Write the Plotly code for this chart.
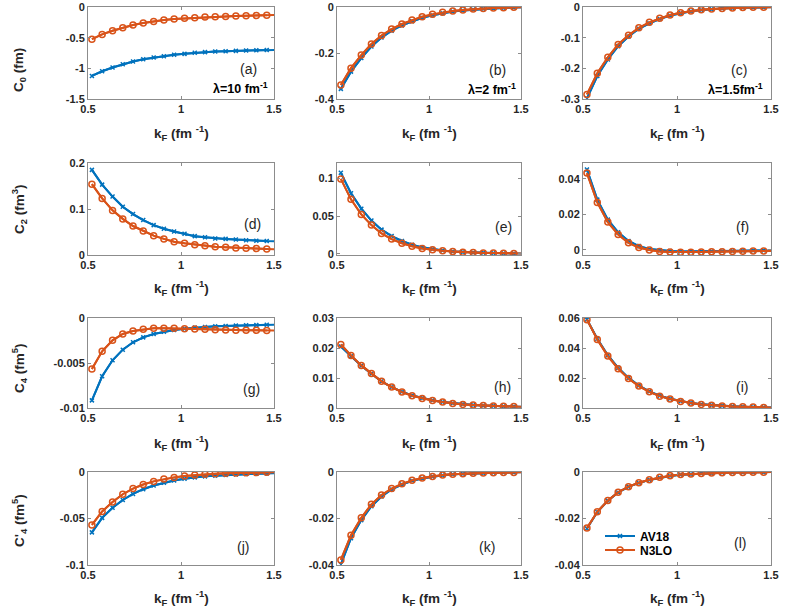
import plotly.graph_objects as go
from plotly.subplots import make_subplots

W, H = 789, 616

# Fermi momentum grid (fm^-1); the last point lies just past the axis edge
kf = [0.521, 0.576, 0.632, 0.687, 0.742, 0.797, 0.853, 0.908, 0.963, 1.019,
      1.074, 1.129, 1.184, 1.240, 1.295, 1.350, 1.405, 1.461, 1.516]

# row 1: C0
c0_av18_a = [-1.124, -1.047, -0.987, -0.933, -0.889, -0.851, -0.824, -0.802, -0.780, -0.764,
             -0.747, -0.736, -0.725, -0.720, -0.715, -0.709, -0.704, -0.700, -0.698]
c0_n3lo_a = [-0.524, -0.447, -0.387, -0.338, -0.295, -0.262, -0.235, -0.213, -0.196, -0.185,
             -0.175, -0.164, -0.158, -0.153, -0.147, -0.142, -0.138, -0.134, -0.131]
c0_av18_b = [-0.356, -0.281, -0.222, -0.172, -0.133, -0.103, -0.080, -0.062, -0.047, -0.036,
             -0.027, -0.020, -0.015, -0.011, -0.008, -0.006, -0.004, -0.003, -0.002]
c0_n3lo_b = [-0.339, -0.266, -0.209, -0.161, -0.124, -0.096, -0.074, -0.057, -0.042, -0.032,
             -0.023, -0.017, -0.013, -0.009, -0.006, -0.004, -0.003, -0.0015, -0.001]
c0_av18_c = [-0.298, -0.225, -0.171, -0.128, -0.096, -0.071, -0.053, -0.039, -0.028, -0.020,
             -0.014, -0.010, -0.007, -0.005, -0.0035, -0.0025, -0.0015, -0.001, -0.0006]
c0_n3lo_c = [-0.285, -0.216, -0.164, -0.122, -0.092, -0.068, -0.050, -0.037, -0.026, -0.0185,
             -0.013, -0.009, -0.0065, -0.0045, -0.003, -0.002, -0.001, -0.0008, -0.0005]

# row 2: C2
c2_av18_d = [0.185, 0.153, 0.127, 0.105, 0.089, 0.076, 0.065, 0.057, 0.051, 0.046,
             0.041, 0.0385, 0.036, 0.035, 0.0335, 0.032, 0.031, 0.0305, 0.030]
c2_n3lo_d = [0.154, 0.123, 0.097, 0.0785, 0.063, 0.052, 0.042, 0.035, 0.029, 0.0255,
             0.0225, 0.020, 0.018, 0.0167, 0.0153, 0.0145, 0.014, 0.013, 0.0124]
c2_av18_e = [0.107, 0.080, 0.0597, 0.044, 0.032, 0.0235, 0.017, 0.012, 0.0086, 0.0063,
             0.0045, 0.0032, 0.0023, 0.0018, 0.0014, 0.001, 0.0008, 0.0006, 0.0005]
c2_n3lo_e = [0.099, 0.072, 0.052, 0.038, 0.027, 0.0195, 0.014, 0.010, 0.0072, 0.0053,
             0.004, 0.003, 0.0022, 0.0017, 0.0013, 0.001, 0.0008, 0.0006, 0.0005]
c2_av18_f = [0.0453, 0.0283, 0.017, 0.0098, 0.0049, 0.002, 0.0004, -0.0004, -0.0008, -0.001,
             -0.001, -0.001, -0.0009, -0.0008, -0.0007, -0.0006, -0.0005, -0.0004, -0.0004]
c2_n3lo_f = [0.0433, 0.0267, 0.0156, 0.0086, 0.0039, 0.0012, -0.0002, -0.001, -0.0013, -0.0014,
             -0.0014, -0.0013, -0.0012, -0.0011, -0.001, -0.0009, -0.0008, -0.0007, -0.0007]

# row 3: C4
c4_av18_g = [-0.00915, -0.00648, -0.0047, -0.00352, -0.0027, -0.00215, -0.00178, -0.00152,
             -0.00133, -0.00119, -0.00107, -0.001, -0.00093, -0.00089, -0.00085, -0.00081,
             -0.00078, -0.00075, -0.00073]
c4_n3lo_g = [-0.00567, -0.0037, -0.00248, -0.00178, -0.00144, -0.00126, -0.00115, -0.00115,
             -0.00115, -0.00119, -0.00122, -0.00126, -0.0013, -0.00133, -0.00137, -0.00137,
             -0.00137, -0.0014, -0.0014]
c4_av18_h = [0.0205, 0.0172, 0.0141, 0.0114, 0.0089, 0.007, 0.0054, 0.0042, 0.0033, 0.0026,
             0.002, 0.0016, 0.0013, 0.001, 0.0008, 0.0007, 0.0006, 0.0005, 0.0004]
c4_n3lo_h = [0.0212, 0.0175, 0.0142, 0.0115, 0.0089, 0.007, 0.0053, 0.0041, 0.0032, 0.0025,
             0.002, 0.0015, 0.0012, 0.001, 0.0008, 0.0007, 0.0006, 0.0005, 0.0004]
c4_av18_i = [0.0590, 0.0462, 0.0352, 0.0268, 0.0201, 0.0150, 0.0111, 0.0082, 0.0062, 0.0046,
             0.0034, 0.0025, 0.0019, 0.0014, 0.0011, 0.0008, 0.0006, 0.0005, 0.0004]
c4_n3lo_i = [0.0589, 0.0457, 0.0346, 0.0262, 0.0196, 0.0146, 0.0108, 0.0079, 0.006, 0.0044,
             0.0033, 0.0024, 0.0018, 0.0013, 0.001, 0.0008, 0.0006, 0.0004, 0.0003]

# row 4: C'4
c4p_av18_j = [-0.0649, -0.0493, -0.0384, -0.0301, -0.0236, -0.0185, -0.0145, -0.0116, -0.0091,
              -0.0072, -0.0058, -0.0047, -0.0039, -0.0032, -0.0026, -0.0021, -0.0018, -0.0015,
              -0.0013]
c4p_n3lo_j = [-0.0569, -0.0424, -0.0322, -0.0239, -0.0178, -0.0134, -0.0101, -0.0076, -0.0058,
              -0.0043, -0.0033, -0.0025, -0.0018, -0.0014, -0.0011, -0.0008, -0.0006, -0.0004,
              -0.0003]
c4p_av18_k = [-0.0397, -0.0285, -0.0207, -0.0147, -0.0105, -0.0075, -0.0054, -0.0038, -0.0028,
              -0.002, -0.0014, -0.001, -0.0008, -0.0006, -0.0004, -0.0003, -0.0002, -0.0002,
              -0.0001]
c4p_n3lo_k = [-0.0378, -0.0272, -0.0197, -0.0139, -0.0099, -0.0071, -0.0051, -0.0036, -0.0026,
              -0.0019, -0.0013, -0.001, -0.0007, -0.0005, -0.0004, -0.0003, -0.0002, -0.0002,
              -0.0001]
c4p_av18_l = [-0.0243, -0.0172, -0.0124, -0.0088, -0.0064, -0.0047, -0.0034, -0.0024, -0.0017,
              -0.0012, -0.0009, -0.0006, -0.0004, -0.0003, -0.0002, -0.0002, -0.0001, -0.0001, 0.0]
c4p_n3lo_l = [-0.0241, -0.0171, -0.0123, -0.0087, -0.0063, -0.0046, -0.0033, -0.0023, -0.0016,
              -0.0011, -0.0009, -0.0006, -0.0004, -0.0003, -0.0002, -0.0002, -0.0001, -0.0001, 0.0]

panel_labels = ["(a)", "(b)", "(c)", "(d)", "(e)", "(f)",
                "(g)", "(h)", "(i)", "(j)", "(k)", "(l)"]
lambda_labels = ["λ=10 fm<sup>-1</sup>", "λ=2 fm<sup>-1</sup>", "λ=1.5fm<sup>-1</sup>"]
row_titles = ["C<sub>0</sub> (fm)", "C<sub>2</sub> (fm<sup>3</sup>)",
              "C<sub>4</sub> (fm<sup>5</sup>)", "C'<sub>4</sub> (fm<sup>5</sup>)"]
x_title = "k<sub>F</sub> (fm <sup>-1</sup>)"
x_ticks = [0.5, 1, 1.5]
x_tick_text = ["0.5", "1", "1.5"]

panels = [
    (c0_av18_a, c0_n3lo_a), (c0_av18_b, c0_n3lo_b), (c0_av18_c, c0_n3lo_c),
    (c2_av18_d, c2_n3lo_d), (c2_av18_e, c2_n3lo_e), (c2_av18_f, c2_n3lo_f),
    (c4_av18_g, c4_n3lo_g), (c4_av18_h, c4_n3lo_h), (c4_av18_i, c4_n3lo_i),
    (c4p_av18_j, c4p_n3lo_j), (c4p_av18_k, c4p_n3lo_k), (c4p_av18_l, c4p_n3lo_l),
]

# y ranges and ticks per panel
y_ranges = [[-1.5, 0], [-0.4, 0], [-0.3, 0],
            [0, 0.2], [-0.0015, 0.12], [-0.003, 0.049],
            [-0.01, 0], [0, 0.03], [0, 0.06],
            [-0.1, 0], [-0.04, 0], [-0.04, 0]]
y_ticks = [([-1.5, -1, -0.5, 0], ["-1.5", "-1", "-0.5", "0"]),
           ([-0.4, -0.2, 0], ["-0.4", "-0.2", "0"]),
           ([-0.3, -0.2, -0.1, 0], ["-0.3", "-0.2", "-0.1", "0"]),
           ([0, 0.1, 0.2], ["0", "0.1", "0.2"]),
           ([0, 0.05, 0.1], ["0", "0.05", "0.1"]),
           ([0, 0.02, 0.04], ["0", "0.02", "0.04"]),
           ([-0.01, -0.005, 0], ["-0.01", "-0.005", "0"]),
           ([0, 0.01, 0.02, 0.03], ["0", "0.01", "0.02", "0.03"]),
           ([0, 0.02, 0.04, 0.06], ["0", "0.02", "0.04", "0.06"]),
           ([-0.1, -0.05, 0], ["-0.1", "-0.05", "0"]),
           ([-0.04, -0.02, 0], ["-0.04", "-0.02", "0"]),
           ([-0.04, -0.02, 0], ["-0.04", "-0.02", "0"])]

BLUE = "#0072BD"
ORANGE = "#D95319"
FONT = "Liberation Sans, Arial, sans-serif"

# axes boxes in pixels (left, right) and (top, bottom)
col_px = [(88, 274), (337, 521), (583, 771)]
row_px = [(7, 99), (163, 255), (318, 408), (472, 565)]
# panel label positions (pixels)
label_px = [(248, 69), (498, 70), (739, 70),
            (252, 224), (503, 227), (742, 227),
            (251, 389), (502, 387), (742, 387),
            (243, 547), (487, 547), (740, 543)]
lambda_px = [(240, 88), (492, 89), (735, 89)]


def px(x, y):
    return x / W, 1 - y / H


fig = make_subplots(rows=4, cols=3)
n_mark = len(kf) - 1

for i, (av18, n3lo) in enumerate(panels):
    r, c = i // 3 + 1, i % 3 + 1
    first = i == 11
    for name, ys, color, sym, size, lw, leg in [
            ("AV18", av18, BLUE, "x-thin", 4, 1.5, "legend"),
            ("N3LO", n3lo, ORANGE, "circle-open", 6, 1.5, "legend2")]:
        fig.add_trace(go.Scatter(x=kf, y=ys, mode="lines", showlegend=False,
                                 line=dict(color=color, width=2), hoverinfo="skip"),
                      row=r, col=c)
        fig.add_trace(go.Scatter(x=kf[:n_mark], y=ys[:n_mark], mode="lines+markers",
                                 name=name, showlegend=first, legend=leg,
                                 line=dict(color=color, width=2),
                                 marker=dict(symbol=sym, size=size, color=color,
                                             line=dict(color=color, width=lw))),
                      row=r, col=c)

axis_style = dict(showline=True, linecolor="#8c8c8c", linewidth=1, mirror="ticks",
                  ticks="inside", ticklen=3, tickcolor="#8c8c8c", showgrid=False,
                  zeroline=False, automargin=False,
                  tickfont=dict(family=FONT, size=11, color="#262626", weight="bold"))

for i in range(12):
    r, c = i // 3, i % 3
    (x0, x1), (y0, y1) = col_px[c], row_px[r]
    sfx = "" if i == 0 else str(i + 1)
    fig.layout["xaxis" + sfx].update(domain=[x0 / W, x1 / W], range=[0.5, 1.5],
                                     tickvals=x_ticks, ticktext=x_tick_text, **axis_style)
    fig.layout["yaxis" + sfx].update(domain=[1 - y1 / H, 1 - y0 / H], range=y_ranges[i],
                                     tickvals=y_ticks[i][0], ticktext=y_ticks[i][1],
                                     **axis_style)

centre = dict(xref="paper", yref="paper", xanchor="center", yanchor="middle", showarrow=False)
annotations = []
for i, lab in enumerate(panel_labels):
    x, y = px(*label_px[i])
    annotations.append(dict(x=x, y=y, text=lab,
                            font=dict(family=FONT, size=14, color="#262626"), **centre))
for c, lab in enumerate(lambda_labels):
    x, y = px(*lambda_px[c])
    annotations.append(dict(x=x, y=y, text=lab,
                            font=dict(family=FONT, size=12.5, color="#000000", weight="bold"),
                            **centre))
x_title_y = [133, 288, 443, 598]
for r in range(4):
    for c in range(3):
        x0, x1 = col_px[c]
        x, y = px((x0 + x1) / 2, x_title_y[r])
        annotations.append(dict(x=x, y=y, text=x_title,
                                font=dict(family=FONT, size=13.5, color="#262626",
                                          weight="bold"),
                                **centre))
y_title_y = [70, 209, 368, 521]
for r in range(4):
    x, y = px(19, y_title_y[r])
    annotations.append(dict(x=x, y=y, text=row_titles[r], textangle=-90,
                            font=dict(family=FONT, size=13.5, color="#262626", weight="bold"),
                            **centre))

leg_font = dict(family=FONT, size=12, color="#000000", weight="bold")
lx, ly1 = px(600, 536)
_, ly2 = px(600, 550)
fig.update_layout(
    width=W, height=H, margin=dict(l=0, r=0, t=0, b=0),
    paper_bgcolor="white", plot_bgcolor="white",
    annotations=annotations,
    legend=dict(x=lx, y=ly1, xanchor="left", yanchor="middle", font=leg_font,
                bgcolor="rgba(0,0,0,0)"),
    legend2=dict(x=lx, y=ly2, xanchor="left", yanchor="middle", font=leg_font,
                 bgcolor="rgba(0,0,0,0)"),
)

# drop the default page margin so the figure sits at the window's corner
fig.write_html("out.html", config={"displayModeBar": False},
               post_script="document.body.style.margin = '0';")
